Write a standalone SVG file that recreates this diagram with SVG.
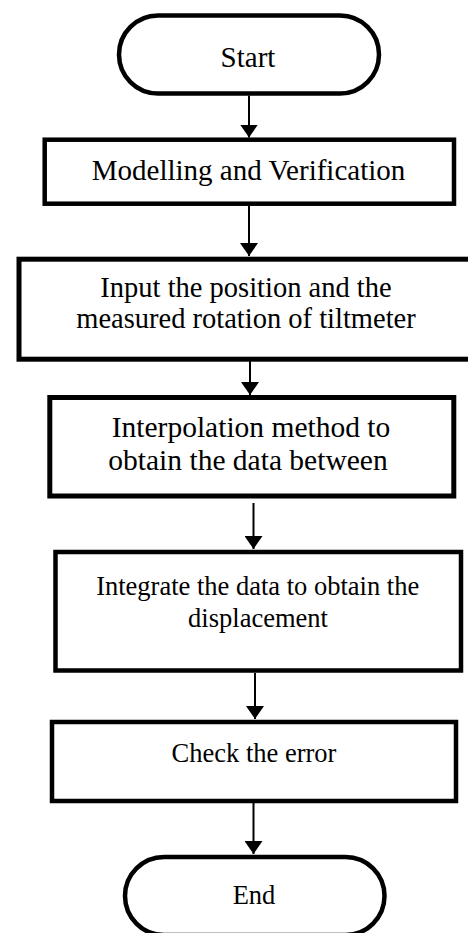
<svg xmlns="http://www.w3.org/2000/svg" width="468" height="933" viewBox="0 0 468 933">
<style>
.box{fill:#fff;stroke:#000;stroke-width:4.5}
.term{fill:#fff;stroke:#000;stroke-width:4.5}
.t{font-family:"Liberation Serif","Times New Roman",serif;fill:#000;text-anchor:middle}
.c{font-size:29px}
.c2{font-size:28.5px}
.c3{font-size:29.5px}
.tm{font-size:26.5px}
.con{stroke:#000;stroke-width:2;fill:none}
</style>
<defs>
<marker id="ah" viewBox="0 0 13 18" refX="13" refY="9" markerWidth="13" markerHeight="18" orient="auto" markerUnits="userSpaceOnUse">
<path d="M0,0 L13,9 L0,18 z" fill="#000"/>
</marker>
</defs>
<rect width="468" height="933" fill="#fff"/>
<g id="connectors">
<line class="con" x1="249" y1="95.5" x2="249" y2="137.5" marker-end="url(#ah)"/>
<line class="con" x1="249" y1="205.5" x2="249" y2="256" marker-end="url(#ah)"/>
<line class="con" x1="250" y1="361" x2="250" y2="395" marker-end="url(#ah)"/>
<line class="con" x1="253.5" y1="503" x2="253.5" y2="549" marker-end="url(#ah)"/>
<line class="con" x1="255" y1="673" x2="255" y2="719" marker-end="url(#ah)"/>
<line class="con" x1="253.5" y1="803" x2="253.5" y2="854" marker-end="url(#ah)"/>
</g>
<g id="start">
<rect class="term" x="119" y="15.5" width="260" height="78" rx="39" ry="39"/>
<text class="t c" x="248" y="67">Start</text>
</g>
<g id="modelling">
<rect class="box" x="44.7" y="139.7" width="409.3" height="64"/>
<text class="t c" x="248.5" y="180">Modelling and Verification</text>
</g>
<g id="input">
<rect class="box" x="19" y="259.2" width="470" height="100" style="stroke-width:5"/>
<text class="t c2" x="246" y="296.7">Input the position and the</text>
<text class="t c2" x="246" y="328.4">measured rotation of tiltmeter</text>
</g>
<g id="interpolation">
<rect class="box" x="49.8" y="397.5" width="404" height="98.5" style="stroke-width:5"/>
<text class="t c3" x="251" y="436.5">Interpolation method to</text>
<text class="t c3" x="248" y="469.5">obtain the data between</text>
</g>
<g id="integrate">
<rect class="box" x="55.5" y="552" width="405.5" height="118.5"/>
<text class="t tm" x="257.7" y="595">Integrate the data to obtain the</text>
<text class="t tm" x="258" y="626.5">displacement</text>
</g>
<g id="check">
<rect class="box" x="52" y="722" width="404" height="79"/>
<text class="t tm" x="254" y="762.3">Check the error</text>
</g>
<g id="end">
<rect class="term" x="125" y="857" width="259.5" height="78" rx="39" ry="39"/>
<text class="t tm" x="254" y="904">End</text>
</g>
</svg>
